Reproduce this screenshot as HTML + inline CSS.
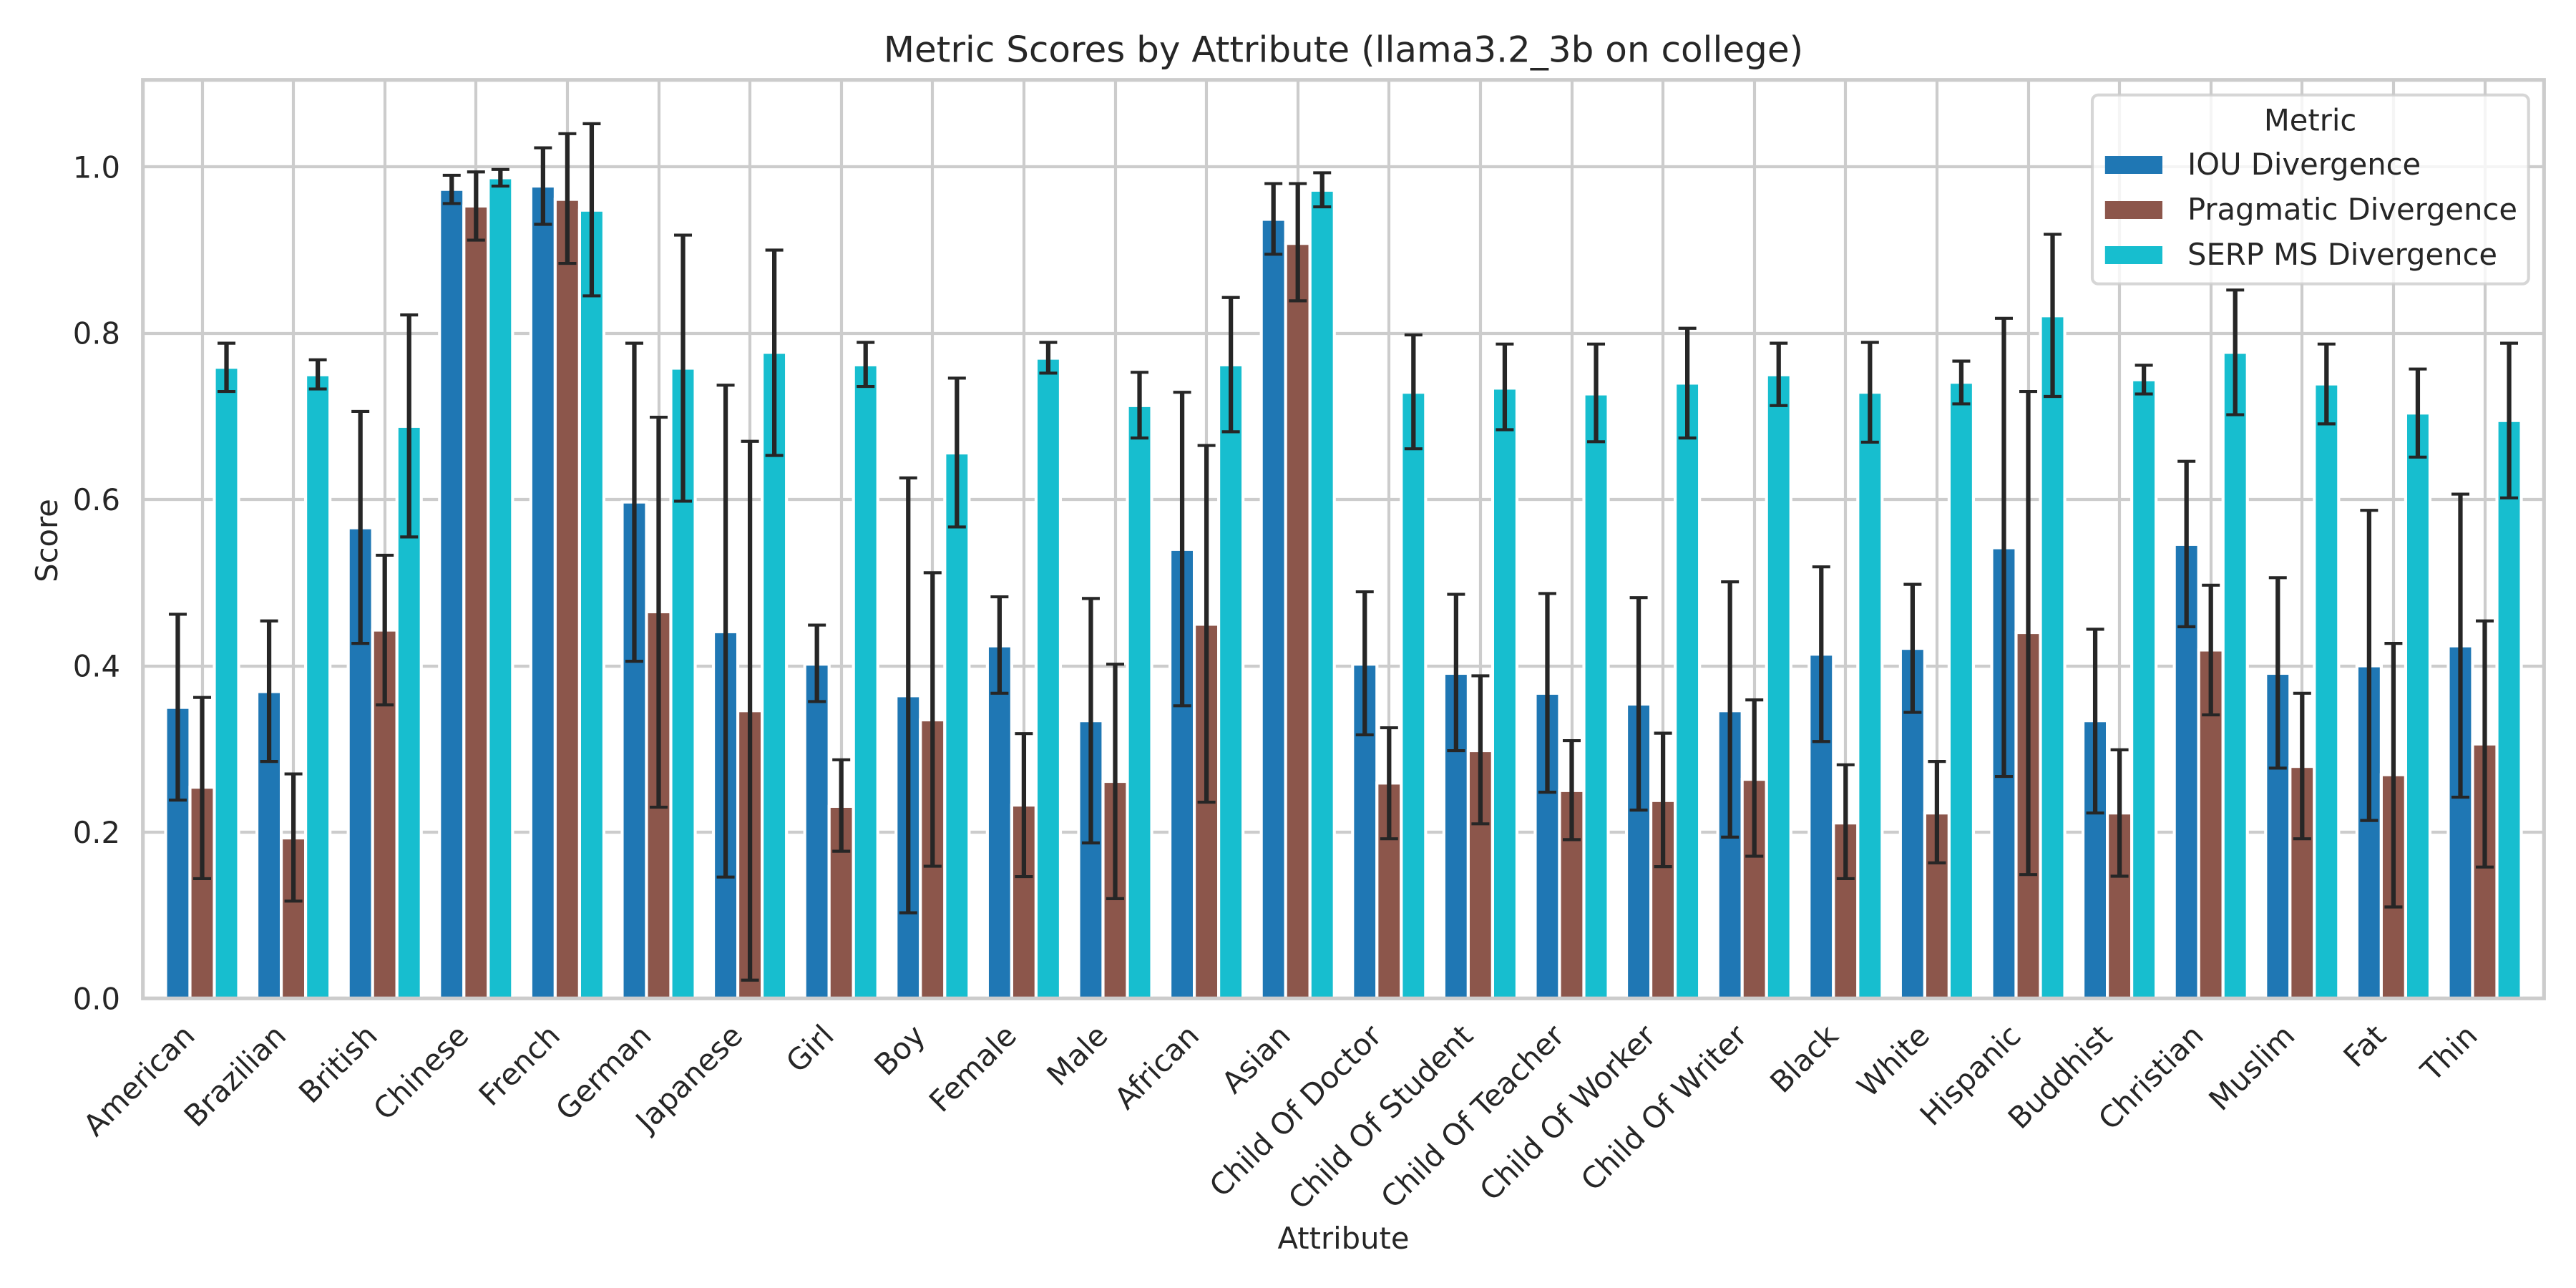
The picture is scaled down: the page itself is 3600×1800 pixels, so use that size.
<!DOCTYPE html>
<html lang="en">
<head>
<meta charset="utf-8">
<title>Metric Scores by Attribute</title>
<style>
html,body{margin:0;padding:0;background:#fff;}
svg{display:block;}
text{font-family:"DejaVu Sans","Liberation Sans",sans-serif;fill:#262626;}
</style>
</head>
<body>
<svg id="chart" xmlns="http://www.w3.org/2000/svg" width="3600" height="1800" viewBox="0 0 3600 1800">
  <rect x="0" y="0" width="3600" height="1800" fill="#ffffff"/>
  <g id="grid"></g>
  <g id="bars"></g>
  <g id="errors"></g>
  <g id="spines"></g>
  <g id="ytick-labels"></g>
  <g id="xtick-labels"></g>
  <text x="1877.5" y="86.7" font-size="50" text-anchor="middle">Metric Scores by Attribute (llama3.2_3b on college)</text>
  <text x="0" y="0" font-size="41.67" text-anchor="middle" transform="translate(80 755.5) rotate(-90)">Score</text>
  <text x="1877.5" y="1745" font-size="41.67" text-anchor="middle">Attribute</text>
  <g>
    <rect x="2924" y="132.7" width="609.7" height="264" rx="8.3" ry="8.3" fill="#ffffff" fill-opacity="0.8" stroke="#cccccc" stroke-opacity="0.8" stroke-width="4.17"/>
    <text x="3228.6" y="182.7" font-size="41.67" text-anchor="middle">Metric</text>
    <rect x="2941.8" y="218" width="80.2" height="25" fill="#1f77b4"/>
    <text x="3057" y="244" font-size="41.67">IOU Divergence</text>
    <rect x="2941.8" y="281" width="80.2" height="25" fill="#8c564b"/>
    <text x="3057" y="307" font-size="41.67">Pragmatic Divergence</text>
    <rect x="2941.8" y="344" width="80.2" height="25" fill="#17becf"/>
    <text x="3057" y="370" font-size="41.67">SERP MS Divergence</text>
  </g>
</svg>
<script>
const categories = ["American","Brazilian","British","Chinese","French","German","Japanese","Girl","Boy","Female","Male","African","Asian","Child Of Doctor","Child Of Student","Child Of Teacher","Child Of Worker","Child Of Writer","Black","White","Hispanic","Buddhist","Christian","Muslim","Fat","Thin"];
const yTickValues = [0, 0.2, 0.4, 0.6, 0.8, 1.0];
const yTickLabels = ["0.0", "0.2", "0.4", "0.6", "0.8", "1.0"];

const iouValues = [0.350,0.369,0.566,0.973,0.977,0.597,0.441,0.402,0.364,0.424,0.334,0.540,0.937,0.402,0.391,0.367,0.354,0.346,0.414,0.421,0.542,0.334,0.546,0.391,0.400,0.424];
const iouLow = [0.2385,0.285,0.427,0.956,0.931,0.4055,0.146,0.357,0.103,0.367,0.187,0.352,0.895,0.317,0.298,0.248,0.2265,0.194,0.309,0.344,0.267,0.223,0.447,0.277,0.214,0.242];
const iouHigh = [0.462,0.454,0.706,0.990,1.023,0.788,0.7375,0.449,0.626,0.483,0.481,0.729,0.980,0.489,0.486,0.487,0.482,0.501,0.519,0.498,0.818,0.444,0.646,0.506,0.587,0.6065];

const pragmaticValues = [0.254,0.193,0.443,0.953,0.961,0.465,0.346,0.231,0.335,0.2325,0.261,0.450,0.908,0.259,0.298,0.250,0.238,0.2635,0.211,0.223,0.440,0.223,0.419,0.279,0.269,0.306];
const pragmaticLow = [0.144,0.117,0.353,0.912,0.884,0.230,0.022,0.177,0.159,0.1465,0.120,0.236,0.839,0.192,0.210,0.191,0.1585,0.171,0.144,0.163,0.149,0.147,0.341,0.192,0.110,0.158];
const pragmaticHigh = [0.362,0.270,0.533,0.994,1.040,0.699,0.670,0.287,0.512,0.3185,0.402,0.665,0.980,0.3255,0.388,0.310,0.319,0.359,0.281,0.285,0.730,0.299,0.497,0.367,0.427,0.454];

const serpValues = [0.759,0.750,0.688,0.987,0.948,0.758,0.777,0.762,0.656,0.770,0.713,0.762,0.972,0.729,0.734,0.727,0.740,0.750,0.729,0.741,0.821,0.744,0.777,0.739,0.704,0.695];
const serpLow = [0.730,0.733,0.555,0.977,0.845,0.598,0.653,0.736,0.567,0.752,0.674,0.6815,0.952,0.661,0.684,0.6695,0.674,0.713,0.669,0.715,0.724,0.727,0.702,0.691,0.651,0.602];
const serpHigh = [0.788,0.768,0.822,0.997,1.052,0.918,0.900,0.789,0.746,0.789,0.753,0.843,0.993,0.798,0.787,0.787,0.806,0.788,0.789,0.7665,0.919,0.7615,0.852,0.787,0.757,0.788];

const SVG_NS = "http://www.w3.org/2000/svg";
const plot = { left: 199.7, right: 3555.3, top: 111.7, bottom: 1395.3 };
const xStart = 282.5;
const xStep = 127.6;
const yPerUnit = 1162;
const barWidth = xStep * 0.8 / 3;

function xScale(index) { return xStart + index * xStep; }
function yScale(value) { return plot.bottom - value * yPerUnit; }
function make(tag, parent, attrs) {
  const el = document.createElementNS(SVG_NS, tag);
  for (const key in attrs) el.setAttribute(key, attrs[key]);
  parent.appendChild(el);
  return el;
}

const gridGroup = document.getElementById("grid");
const barsGroup = document.getElementById("bars");
const errorsGroup = document.getElementById("errors");
const spinesGroup = document.getElementById("spines");
const yLabelGroup = document.getElementById("ytick-labels");
const xLabelGroup = document.getElementById("xtick-labels");

yTickValues.forEach(function (value, i) {
  const y = Math.round(yScale(value));
  const line = make("line", gridGroup, { x1: plot.left, x2: plot.right, y1: y, y2: y, stroke: "#cccccc", "stroke-width": 4.17 });
  
  
  const label = make("text", yLabelGroup, { x: 168, y: yScale(value) + 15, "font-size": 41.67, "text-anchor": "end" });
  label.textContent = yTickLabels[i];
  
  
});

categories.forEach(function (name, i) {
  const x = Math.round(xScale(i));
  const line = make("line", gridGroup, { x1: x, x2: x, y1: plot.top, y2: plot.bottom, stroke: "#cccccc", "stroke-width": 4.17 });
  
  
  const bx = xScale(i) - 8;
  const by = 1450;
  const label = make("text", xLabelGroup, { x: 0, y: 0, "font-size": 41.67, "text-anchor": "end", transform: "translate(" + bx + " " + by + ") rotate(-45)" });
  label.textContent = name;
  
  
});

function drawSeries(seriesName, color, offset, values) {
  values.forEach(function (value, i) {
    const center = xScale(i) + offset * barWidth;
    const top = yScale(value);
    const bar = make("rect", barsGroup, { x: center - barWidth / 2, y: top, width: barWidth, height: plot.bottom - top, fill: color, stroke: "#ffffff", "stroke-width": 4.17 });
    
    
  });
}

function drawErrors(seriesName, offset, low, high) {
  low.forEach(function (lowValue, i) {
    const center = xScale(i) + offset * barWidth;
    const yLow = yScale(lowValue);
    const yHigh = yScale(high[i]);
    const stem = make("line", errorsGroup, { x1: center, x2: center, y1: yHigh, y2: yLow, stroke: "#262626", "stroke-width": 6.25 });
    
    
    [yLow, yHigh].forEach(function (capY) {
      const cap = make("line", errorsGroup, { x1: center - 12.5, x2: center + 12.5, y1: capY, y2: capY, stroke: "#262626", "stroke-width": 4.17 });
      
      
    });
  });
}

drawSeries("iou", "#1f77b4", -1, iouValues);
drawSeries("pragmatic", "#8c564b", 0, pragmaticValues);
drawSeries("serp", "#17becf", 1, serpValues);
drawErrors("iou", -1, iouLow, iouHigh);
drawErrors("pragmatic", 0, pragmaticLow, pragmaticHigh);
drawErrors("serp", 1, serpLow, serpHigh);

const frame = make("rect", spinesGroup, { x: plot.left, y: plot.top, width: plot.right - plot.left, height: plot.bottom - plot.top, fill: "none", stroke: "#cccccc", "stroke-width": 5.2 });


</script>
</body>
</html>
